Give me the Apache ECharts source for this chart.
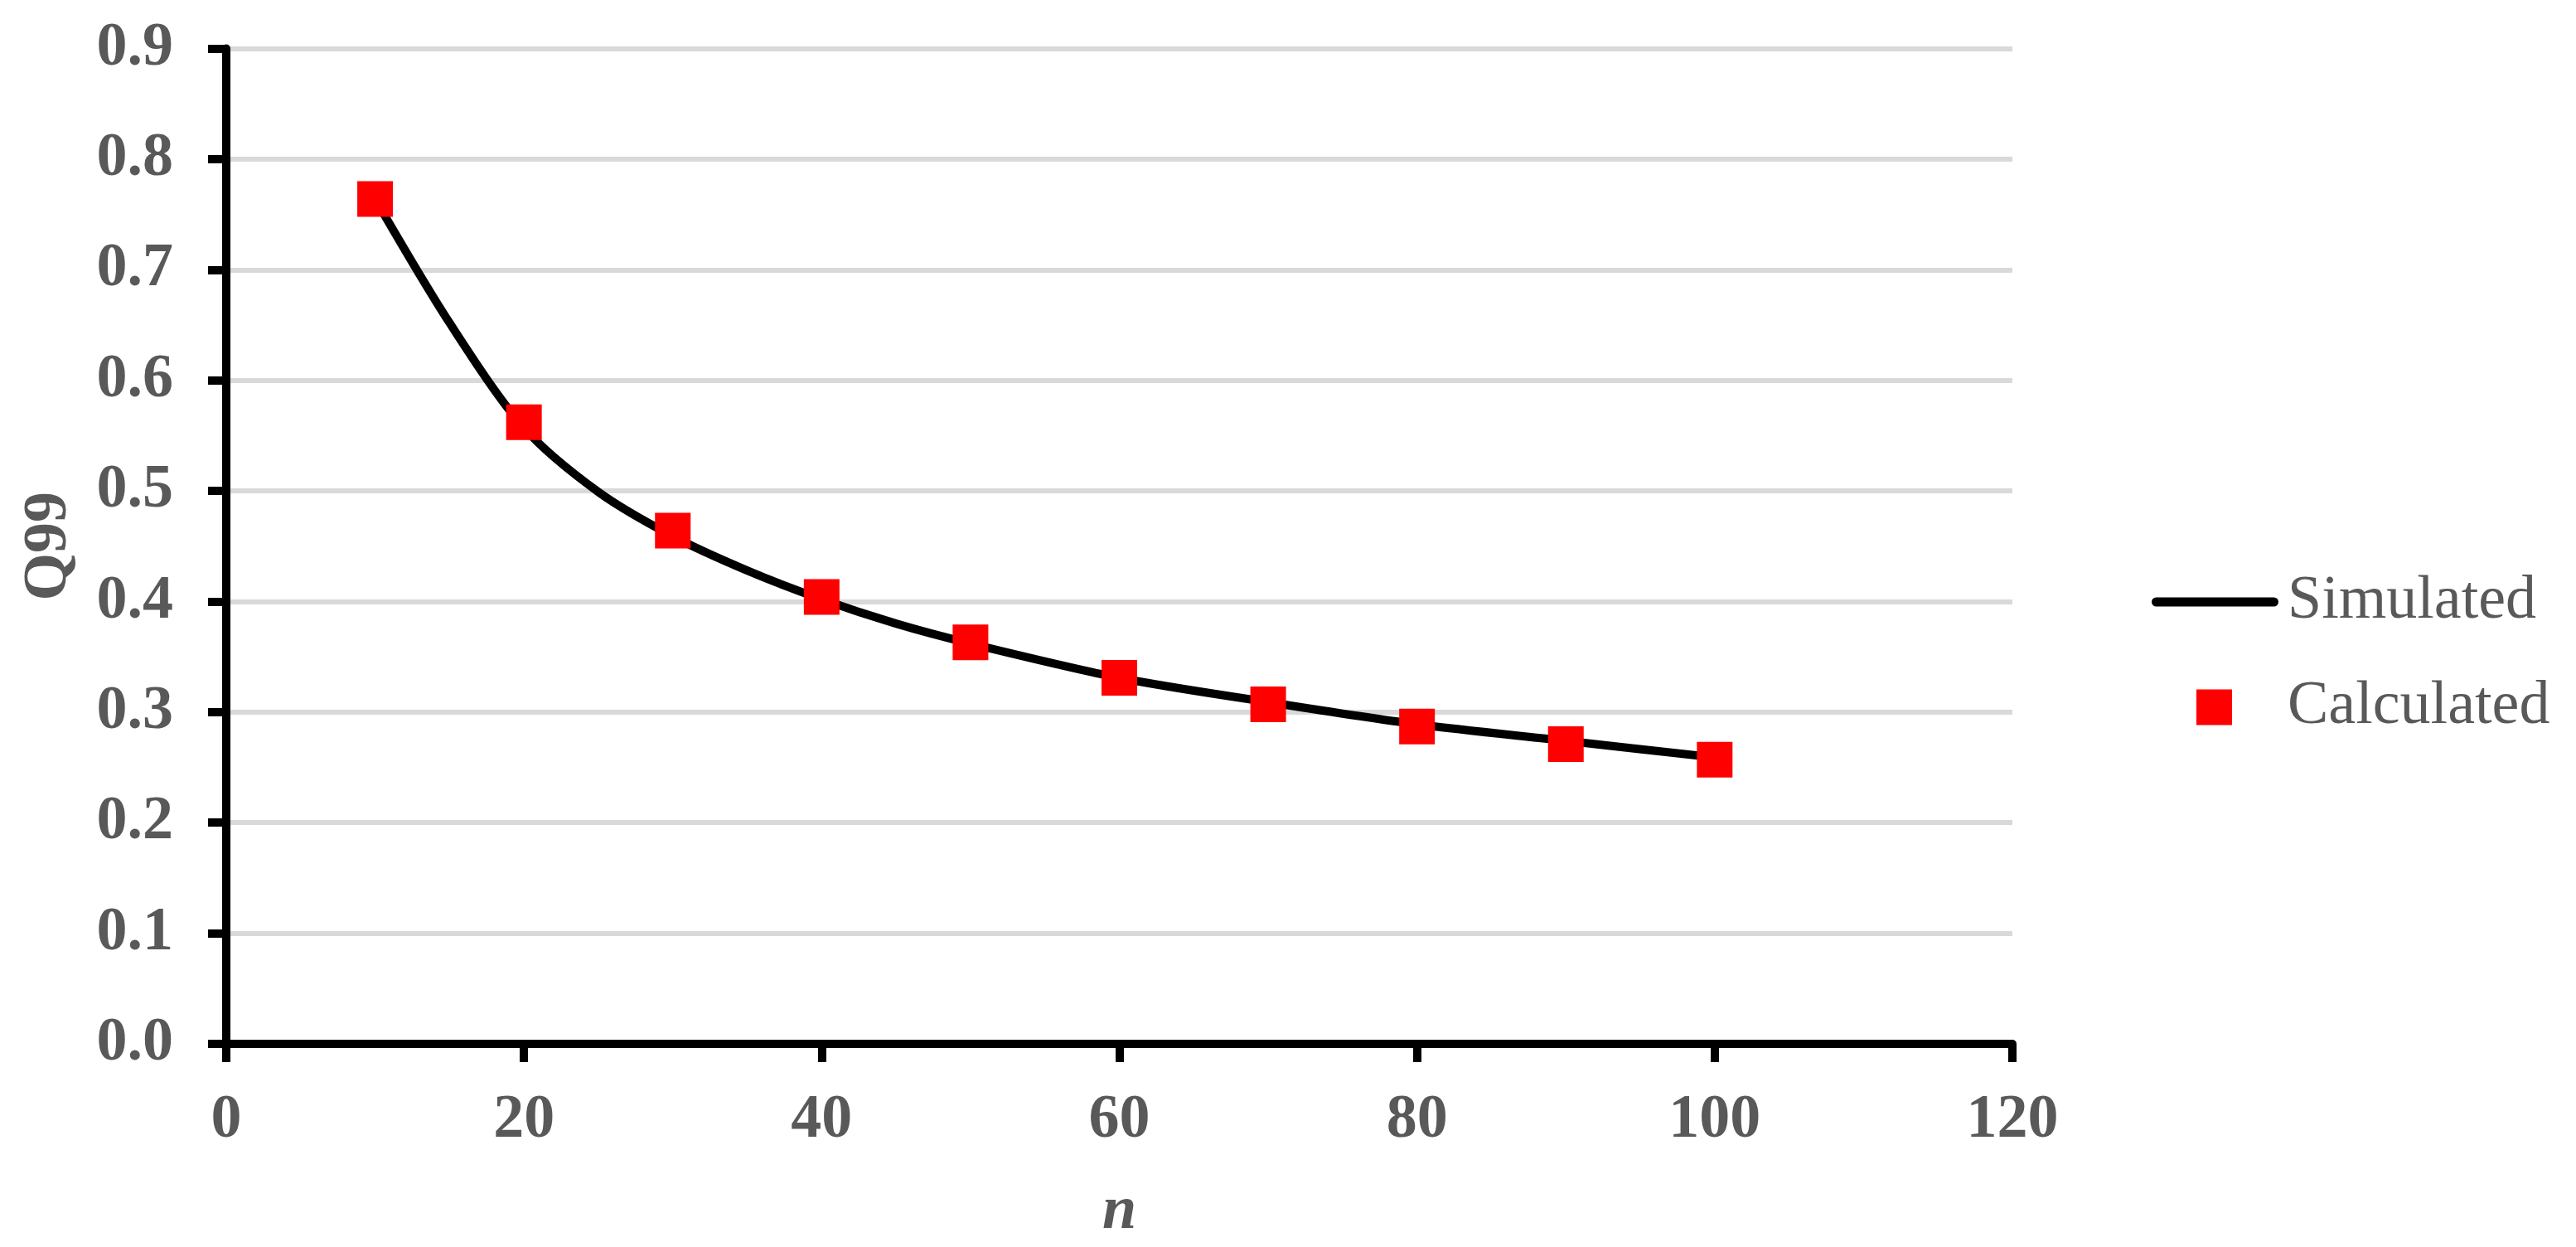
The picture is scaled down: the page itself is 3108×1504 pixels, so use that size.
<!DOCTYPE html>
<html>
<head>
<meta charset="utf-8">
<script src="https://cdn.jsdelivr.net/npm/echarts@6/dist/echarts.min.js"></script>
<style>
  html, body { margin: 0; padding: 0; background: #ffffff; }
  #chart { width: 3108px; height: 1504px; }
</style>
</head>
<body>
<div id="chart"></div>
<script>
// ---- Data ----
const calcN = [10, 20, 30, 40, 50, 60, 70, 80, 90, 100];
const calcQ99 = [0.764, 0.562, 0.464, 0.404, 0.363, 0.331, 0.307, 0.287, 0.271, 0.257];

const simN = [10, 15, 20, 25, 30, 35, 40, 45, 50, 60, 70, 80, 90, 100];
const simQ99 = [0.764, 0.652, 0.557, 0.499, 0.459, 0.428, 0.402, 0.380, 0.362, 0.331, 0.309, 0.289, 0.274, 0.259];

const yTicks = { min: 0, max: 0.9, interval: 0.1 };
const xTicks = { min: 0, max: 120, interval: 20 };

const seriesNames = ['Simulated', 'Calculated'];
const xAxisTitle = 'n';
const yAxisTitle = 'Q99';

// ---- Build chart ----
const FONT = '"Liberation Serif", "Times New Roman", serif';
const GREY = '#595959';

const simData = simN.map((n, i) => [n, simQ99[i]]);
const calcData = calcN.map((n, i) => [n, calcQ99[i]]);

const chart = echarts.init(document.getElementById('chart'), null, { renderer: 'canvas' });

chart.setOption({
  backgroundColor: '#ffffff',
  animation: false,
  grid: { left: 273, right: 680, top: 58.5, bottom: 240.5, containLabel: false },
  legend: {
    orient: 'vertical',
    left: 2596,
    top: 689,
    itemWidth: 159,
    itemHeight: 43,
    itemGap: 53,
    padding: 0,
    textStyle: { fontFamily: FONT, fontSize: 74, color: GREY },
    data: [
      {
        name: seriesNames[0],
        icon: 'path://M0,0 M159,43 M5.5,16 L147.5,16 A5.5,5.5 0 0 1 147.5,27 L5.5,27 A5.5,5.5 0 0 1 5.5,16 Z',
        itemStyle: { color: '#000000', borderWidth: 0 }
      },
      {
        name: seriesNames[1],
        icon: 'path://M0,0 M159,43 M54,0 L97,0 L97,43 L54,43 Z',
        itemStyle: { color: '#ff0000', borderWidth: 0 }
      }
    ]
  },
  xAxis: {
    type: 'value',
    min: xTicks.min, max: xTicks.max, interval: xTicks.interval,
    name: xAxisTitle,
    nameLocation: 'middle',
    nameGap: 166,
    nameTextStyle: { fontFamily: FONT, fontSize: 74, fontStyle: 'italic', fontWeight: 'bold', color: GREY },
    axisLine: { show: true, lineStyle: { color: '#000000', width: 10 } },
    axisTick: { show: true, inside: false, length: 22, lineStyle: { color: '#000000', width: 10 } },
    axisLabel: { margin: 56, fontFamily: FONT, fontSize: 74, fontWeight: 'bold', color: GREY },
    splitLine: { show: false }
  },
  yAxis: {
    type: 'value',
    min: yTicks.min, max: yTicks.max, interval: yTicks.interval,
    name: yAxisTitle,
    nameLocation: 'middle',
    nameGap: 176,
    nameRotate: 90,
    nameTextStyle: { fontFamily: FONT, fontSize: 74, fontWeight: 'bold', color: GREY },
    axisLine: { show: true, lineStyle: { color: '#000000', width: 10 } },
    axisTick: { show: true, inside: false, length: 22, lineStyle: { color: '#000000', width: 10 } },
    axisLabel: {
      margin: 64, fontFamily: FONT, fontSize: 74, fontWeight: 'bold', color: GREY,
      formatter: v => v.toFixed(1)
    },
    splitLine: { show: true, lineStyle: { color: '#d9d9d9', width: 6 } }
  },
  series: [
    {
      name: seriesNames[0],
      type: 'line',
      data: simData,
      smooth: 0.3,
      showSymbol: false,
      symbol: 'none',
      color: '#000000',
      lineStyle: { color: '#000000', width: 10, cap: 'round', join: 'round' },
      z: 2
    },
    {
      name: seriesNames[1],
      type: 'scatter',
      data: calcData,
      symbol: 'rect',
      symbolSize: 43,
      itemStyle: { color: '#ff0000', opacity: 1 },
      z: 3
    }
  ]
});
</script>
</body>
</html>
